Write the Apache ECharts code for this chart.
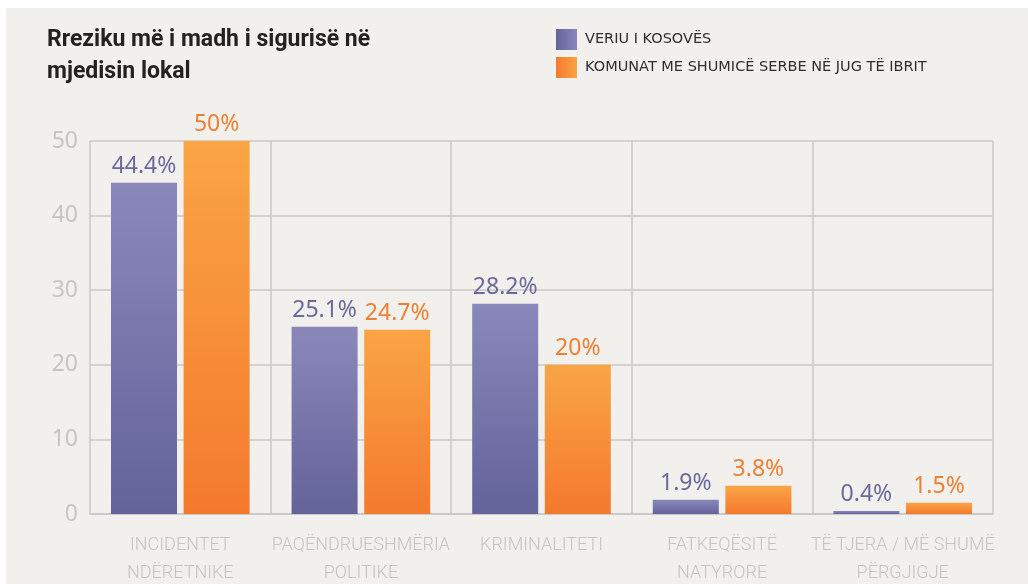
<!DOCTYPE html>
<html>
<head>
<meta charset="utf-8">
<style>
  html, body { margin: 0; padding: 0; background: #ffffff; }
  #chart { width: 1028px; height: 584px; }
</style>
<script src="https://cdn.jsdelivr.net/npm/echarts@6/dist/echarts.min.js"></script>
</head>
<body>
<div id="chart"></div>
<script>
// data
var categories = ['INCIDENTET\nNDËRETNIKE', 'PAQËNDRUESHMËRIA\nPOLITIKE', 'KRIMINALITETI', 'FATKEQËSITË\nNATYRORE', 'TË TJERA / MË SHUMË\nPËRGJIGJE'];
var seriesNames = ['VERIU I KOSOVËS', 'KOMUNAT ME SHUMICË SERBE NË JUG TË IBRIT'];
var veriu = [44.4, 25.1, 28.2, 1.9, 0.4];
var jugu = [50, 24.7, 20, 3.8, 1.5];
var yTicks = [0, 10, 20, 30, 40, 50];

var chart = echarts.init(document.getElementById('chart'));

var narrow = 'Roboto, "Liberation Sans", sans-serif';
var numFont = '"Noto Sans", "Open Sans", sans-serif';

function vgrad(top, bottom) {
    return new echarts.graphic.LinearGradient(0, 0, 0, 1, [
        { offset: 0, color: top }, { offset: 1, color: bottom }
    ]);
}
function hgrad(left, right) {
    return new echarts.graphic.LinearGradient(0, 0, 1, 0, [
        { offset: 0, color: left }, { offset: 1, color: right }
    ]);
}

var option = {
    backgroundColor: '#ffffff',
    animation: false,
    graphic: [{
        type: 'rect',
        z: -10,
        shape: { x: 6, y: 8, width: 1022, height: 576 },
        style: { fill: '#f1f0ec' }
    }],
    title: {
        text: 'Rreziku më i madh i sigurisë në\nmjedisin lokal',
        left: 42,
        top: 19,
        textStyle: {
            fontFamily: narrow,
            fontWeight: 'bold',
            fontSize: 23,
            lineHeight: 32,
            color: '#222222'
        }
    },
    legend: {
        orient: 'vertical',
        left: 556,
        top: 29,
        padding: 0,
        itemWidth: 21,
        itemHeight: 21,
        itemGap: 7,
        icon: 'rect',
        textStyle: { fontFamily: '"DejaVu Sans", sans-serif', fontSize: 14.5, color: '#2e2e2e', padding: [0, 0, 0, 3] },
        data: [
            { name: seriesNames[0], itemStyle: { color: hgrad('#65649a', '#8987bb') } },
            { name: seriesNames[1], itemStyle: { color: hgrad('#f47a2e', '#f9a444') } }
        ]
    },
    grid: { left: 90, right: 35, top: 141, bottom: 70, outerBoundsMode: 'none' },
    xAxis: {
        type: 'category',
        data: categories,
        axisTick: { show: false },
        axisLine: { lineStyle: { color: '#c8c8c8', width: 1.5 } },
        splitLine: { show: true, lineStyle: { color: '#c8c8c8', width: 1.5 } },
        axisLabel: {
            fontFamily: narrow,
            fontWeight: 300,
            fontSize: 18,
            lineHeight: 28,
            color: '#c4c4c4',
            margin: 17,
            interval: 0
        }
    },
    yAxis: {
        type: 'value',
        min: yTicks[0],
        max: yTicks[yTicks.length - 1],
        interval: 10,
        axisLine: { show: false },
        axisTick: { show: false },
        splitLine: { lineStyle: { color: '#c8c8c8', width: 1.5 } },
        axisLabel: { fontFamily: numFont, fontSize: 23, color: '#c5c5c5', margin: 12 }
    },
    series: [
        {
            name: seriesNames[0],
            type: 'bar',
            data: veriu,
            barWidth: 66,
            barGap: '10%',
            itemStyle: { color: vgrad('#8a88bb', '#64639a') },
            label: {
                show: true, position: 'top', distance: 5,
                formatter: '{c}%',
                fontFamily: numFont, fontSize: 23, color: '#6a699e'
            }
        },
        {
            name: seriesNames[1],
            type: 'bar',
            data: jugu,
            barWidth: 66,
            itemStyle: { color: vgrad('#f9a545', '#f4792d') },
            label: {
                show: true, position: 'top', distance: 5,
                formatter: '{c}%',
                fontFamily: numFont, fontSize: 23, color: '#ef7f32'
            }
        }
    ]
};
chart.setOption(option);

window.addEventListener('resize', function() {
    chart.resize();
});
</script>
</body>
</html>
